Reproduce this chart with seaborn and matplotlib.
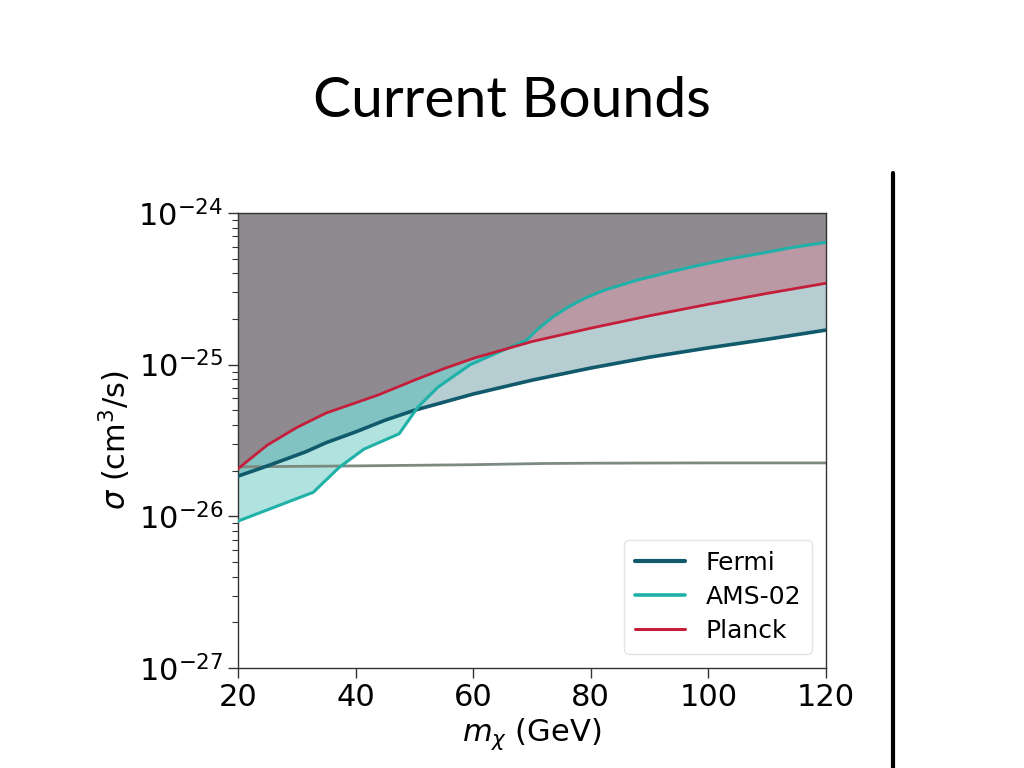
import numpy as np
import pandas as pd
import matplotlib
matplotlib.use("Agg")
import matplotlib.pyplot as plt
from matplotlib.lines import Line2D
import seaborn as sns

# ---- data ----
fermi_m = [20, 25, 31.5, 35, 40, 45, 50, 60, 70, 80, 90, 100, 110, 120]
fermi_sv = [1.84e-26, 2.15e-26, 2.66e-26, 3.06e-26, 3.6e-26, 4.3e-26, 5.0e-26,
            6.4e-26, 7.9e-26, 9.5e-26, 1.12e-25, 1.29e-25, 1.47e-25, 1.69e-25]

ams_m = [20, 32.8, 37.2, 41.4, 47.4, 50.6, 54.0, 59.5, 65.1, 69.1, 70.8, 73.6,
         76.5, 79.0, 82.1, 87.8, 93.5, 97.6, 103.2, 109.0, 114.0, 120]
ams_sv = [9.3e-27, 1.44e-26, 2.1e-26, 2.77e-26, 3.5e-26, 5.25e-26, 7.1e-26,
          1.0e-25, 1.245e-25, 1.45e-25, 1.69e-25, 2.07e-25, 2.44e-25, 2.74e-25,
          3.08e-25, 3.6e-25, 4.09e-25, 4.45e-25, 4.95e-25, 5.42e-25, 5.9e-25, 6.4e-25]

planck_m = [20, 25, 30, 35, 40, 43.8, 50, 55, 60, 70, 80, 90, 100, 110, 120]
planck_sv = [2.06e-26, 2.95e-26, 3.85e-26, 4.8e-26, 5.6e-26, 6.3e-26, 7.9e-26,
             9.4e-26, 1.1e-25, 1.42e-25, 1.74e-25, 2.1e-25, 2.5e-25, 2.95e-25,
             3.44e-25]

relic_m = [20, 40, 60, 72, 80, 100, 120]
relic_sv = [2.12e-26, 2.15e-26, 2.19e-26, 2.23e-26, 2.24e-26, 2.25e-26, 2.25e-26]

x_ticks = [20, 40, 60, 80, 100, 120]
y_lim = (1e-27, 1e-24)

c_fermi = "#105a6c"
c_ams = "#1fb1a7"
c_planck = "#c41e3a"
c_relic = "#7d8a80"
c_excl = "#8e8a8f"

# ---- figure ----
sns.set_style("ticks")
plt.rcParams["font.family"] = ["DejaVu Sans"]
plt.rcParams["mathtext.fontset"] = "dejavusans"
plt.rcParams["text.color"] = "black"
plt.rcParams["axes.labelcolor"] = "black"
plt.rcParams["xtick.color"] = "black"
plt.rcParams["ytick.color"] = "black"

fig = plt.figure(figsize=(10.24, 7.68), dpi=100)
ax = fig.add_axes([0.2324, 0.1302, 0.5742, 0.5925])
ax.set_yscale("log")

top = y_lim[1]
ax.fill_between(fermi_m, fermi_sv, top, color=c_fermi, alpha=0.30, lw=0, zorder=1)
ax.fill_between(ams_m, ams_sv, top, color=c_ams, alpha=0.35, lw=0, zorder=1)
ax.fill_between(planck_m, planck_sv, top, color=c_planck, alpha=0.30, lw=0, zorder=1)

# region excluded by all three bounds
grid = np.linspace(20, 120, 1001)
env = np.max(np.vstack([
    np.interp(grid, fermi_m, np.log10(fermi_sv)),
    np.interp(grid, ams_m, np.log10(ams_sv)),
    np.interp(grid, planck_m, np.log10(planck_sv)),
]), axis=0)
ax.fill_between(grid, 10 ** env, top, color=c_excl, lw=0, zorder=1.5)

sns.lineplot(x=relic_m, y=relic_sv, ax=ax, color=c_relic, lw=2.0, zorder=2, legend=False)
sns.lineplot(x=fermi_m, y=fermi_sv, ax=ax, color=c_fermi, lw=2.6, zorder=3, label="Fermi")
sns.lineplot(x=ams_m, y=ams_sv, ax=ax, color=c_ams, lw=2.2, zorder=3, label="AMS-02")
sns.lineplot(x=planck_m, y=planck_sv, ax=ax, color=c_planck, lw=2.0, zorder=3, label="Planck")

ax.set_xlim(20, 120)
ax.set_ylim(*y_lim)
ax.set_xticks(x_ticks)
ax.set_xticklabels([str(t) for t in x_ticks])
ax.tick_params(axis="both", which="major", labelsize=22, length=7, width=1.0,
               color="#333333", labelcolor="black")
ax.tick_params(axis="y", which="minor", length=4, width=0.8, color="#333333")
for s in ax.spines.values():
    s.set_color("#333333")
    s.set_linewidth(1.0)

ax.set_xlabel(r"$m_\chi$ (GeV)", fontsize=22, labelpad=4, color="black")
ax.set_ylabel(r"$\sigma$ (cm$^3$/s)", fontsize=22, labelpad=4, color="black")

leg = ax.legend(loc="lower right", fontsize=18, frameon=True, handlelength=2.0,
                borderpad=0.45, labelspacing=0.4, borderaxespad=0.55)
leg.get_frame().set_edgecolor("#dddddd")
leg.get_frame().set_linewidth(1.0)
for t in leg.get_texts():
    t.set_color("black")
for h, lw in zip(leg.get_lines(), [3.0, 2.6, 2.2]):
    h.set_linewidth(lw)

fig.text(0.5, 0.868, "Current Bounds", ha="center", va="center",
         fontsize=41, family=["Lato", "DejaVu Sans"], color="black")

fig.add_artist(Line2D([0.8725, 0.8725], [0.0, 0.775], color="black", lw=3.0,
                      transform=fig.transFigure))

fig.savefig("out.png", dpi=100)
